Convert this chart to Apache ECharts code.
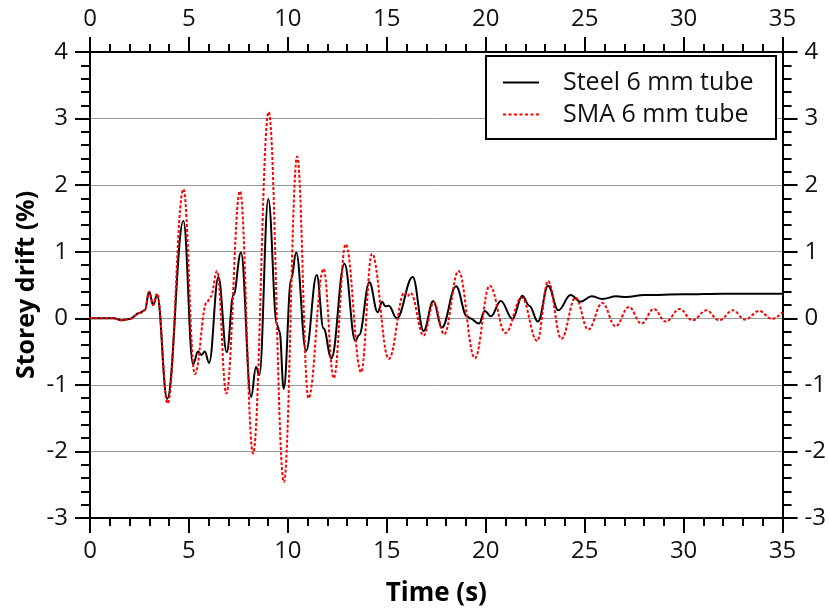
<!DOCTYPE html>
<html>
<head>
<meta charset="utf-8">
<script src="https://cdn.jsdelivr.net/npm/echarts@6/dist/echarts.min.js"></script>
<style>
html,body{margin:0;padding:0;background:#fff;}
#c{width:829px;height:612px;}
</style>
</head>
<body>
<div id="c"></div>
<script>
// Data
const seriesNames = ['Steel 6 mm tube', 'SMA 6 mm tube'];
const xTicks = [0, 5, 10, 15, 20, 25, 30, 35];
const yTicks = [-3, -2, -1, 0, 1, 2, 3, 4];

const steelTime = [0, 1.2, 1.6, 2.0, 2.5, 2.77, 2.99, 3.19, 3.39, 3.9, 4.72, 5.21, 5.46, 5.63, 5.8, 6.02, 6.49, 6.91, 7.25, 7.63, 8.14, 8.39, 8.56, 9.01, 9.45, 9.58, 9.79, 10.17, 10.42, 10.92, 11.46, 11.8, 12.2, 12.86, 13.41, 13.6, 14.12, 14.54, 14.76, 14.92, 15.1, 15.5, 16.31, 16.86, 17.35, 17.78, 18.5, 19.05, 19.2, 19.66, 19.95, 20.26, 20.76, 21.35, 21.85, 22.2, 22.64, 23.15, 23.67, 24.29, 24.79, 25.35, 25.89, 26.6, 27.1, 28.0, 30.0, 32.0, 35.0];
const steelDrift = [0, 0, -0.03, -0.01, 0.08, 0.12, 0.40, 0.20, 0.35, -1.21, 1.46, -0.69, -0.50, -0.55, -0.50, -0.67, 0.62, -0.51, 0.35, 0.99, -1.18, -0.73, -0.85, 1.79, -0.10, -0.20, -1.06, 0.59, 0.99, -0.49, 0.65, -0.15, -0.60, 0.82, -0.34, -0.25, 0.54, 0.09, 0.25, 0.18, 0.19, 0.0, 0.62, -0.19, 0.26, -0.14, 0.48, 0.03, 0.0, -0.08, 0.11, 0.03, 0.26, -0.01, 0.34, 0.19, -0.05, 0.49, 0.12, 0.35, 0.25, 0.33, 0.29, 0.33, 0.32, 0.35, 0.36, 0.37, 0.37];

const smaTime = [0, 1.2, 1.6, 2.0, 2.5, 2.77, 2.99, 3.19, 3.39, 3.92, 4.72, 5.3, 5.9, 6.1, 6.42, 6.89, 7.58, 8.24, 9.03, 9.8, 10.47, 11.04, 11.8, 12.32, 12.92, 13.7, 14.25, 15.1, 15.9, 16.05, 16.2, 16.86, 17.37, 17.9, 18.62, 19.45, 20.2, 21.0, 21.82, 22.6, 23.15, 23.82, 24.54, 25.18, 25.89, 26.56, 27.23, 27.87, 28.49, 29.1, 29.8, 30.45, 31.15, 31.8, 32.49, 33.1, 33.82, 34.46, 35.0];
const smaDrift = [0, 0, -0.03, -0.01, 0.08, 0.12, 0.40, 0.20, 0.37, -1.28, 1.94, -0.84, 0.24, 0.32, 0.71, -1.13, 1.91, -2.03, 3.10, -2.46, 2.43, -1.20, 0.74, -0.90, 1.11, -0.81, 0.97, -0.61, 0.39, 0.33, 0.38, -0.26, 0.24, -0.24, 0.71, -0.60, 0.49, -0.22, 0.31, -0.34, 0.56, -0.31, 0.31, -0.17, 0.23, -0.12, 0.17, -0.08, 0.14, -0.05, 0.14, -0.03, 0.12, -0.03, 0.12, -0.02, 0.11, -0.01, 0.09];

const steelData = steelTime.map((t, i) => [t, steelDrift[i]]);
const smaData = smaTime.map((t, i) => [t, smaDrift[i]]);

// legend icons: solid line and short-dash line
const solidIcon = 'path://M0,0h36v2h-36z';
let dashPath = 'path://';
for (let i = 0; i < 7; i++) { dashPath += 'M' + (i * 5.5) + ',0h3v2h-3z'; }

const FONT = "'Open Sans', 'Noto Sans', sans-serif";
const chart = echarts.init(document.getElementById('c'), null, {renderer: 'canvas'});

function xAx(pos) {
  return {
    type: 'value', position: pos, min: xTicks[0], max: xTicks[xTicks.length - 1], interval: 5,
    axisLine: {show: true, onZero: false, lineStyle: {color: '#000', width: 2}},
    axisTick: {show: true, length: 15, lineStyle: {color: '#000', width: 2}},
    minorTick: {show: true, splitNumber: 5, length: 8, lineStyle: {color: '#000', width: 2}},
    axisLabel: {show: true, margin: 21, fontSize: 24, fontFamily: FONT, color: '#111'},
    splitLine: {show: false},
    name: pos === 'bottom' ? 'Time (s)' : '',
    nameLocation: 'middle', nameGap: 63,
    nameTextStyle: {fontSize: 26, fontWeight: 'bold', fontFamily: FONT, color: '#000'}
  };
}
function yAx(pos) {
  return {
    type: 'value', position: pos, min: yTicks[0], max: yTicks[yTicks.length - 1], interval: 1,
    axisLine: {show: true, onZero: false, lineStyle: {color: '#000', width: 2}},
    axisTick: {show: true, length: 15, lineStyle: {color: '#000', width: 2}},
    minorTick: {show: true, splitNumber: 5, length: 9, lineStyle: {color: '#000', width: 2}},
    axisLabel: {show: true, margin: 22, fontSize: 24, fontFamily: FONT, color: '#111'},
    splitLine: {show: pos === 'left', lineStyle: {color: '#9a9a9a', width: 1}},
    name: pos === 'left' ? 'Storey drift (%)' : '',
    nameLocation: 'middle', nameGap: 51, nameMoveOverlap: false,
    nameTextStyle: {fontSize: 25, fontWeight: 'bold', fontFamily: FONT, color: '#000'}
  };
}

chart.setOption({
  animation: false,
  backgroundColor: '#fff',
  grid: {left: 90, right: 46, top: 52, bottom: 93, containLabel: false},
  xAxis: [xAx('bottom'), xAx('top')],
  yAxis: [yAx('left'), yAx('right')],
  graphic: [{
    type: 'rect', z: 3,
    shape: {x: 486, y: 56, width: 290, height: 83},
    style: {fill: '#fff', stroke: '#000', lineWidth: 2}
  }],
  legend: {
    show: true, orient: 'vertical', left: 503, top: 70, padding: 0,
    itemWidth: 36, itemHeight: 2, itemGap: 7, z: 5,
    textStyle: {fontSize: 25, fontFamily: FONT, color: '#111', padding: [0, 0, 0, 19]},
    data: [
      {name: seriesNames[0], icon: solidIcon},
      {name: seriesNames[1], icon: dashPath}
    ]
  },
  series: [
    {
      name: seriesNames[0], type: 'line', data: steelData, xAxisIndex: 0, yAxisIndex: 0,
      showSymbol: false, symbol: 'none', smooth: 0.4, smoothMonotone: 'x',
      lineStyle: {color: '#000', width: 2}, itemStyle: {color: '#000'}, z: 2
    },
    {
      name: seriesNames[1], type: 'line', data: smaData, xAxisIndex: 0, yAxisIndex: 0,
      showSymbol: false, symbol: 'none', smooth: 0.4, smoothMonotone: 'x',
      lineStyle: {color: '#ff0000', width: 2, type: [3, 2]}, itemStyle: {color: '#ff0000'}, z: 3
    }
  ]
});
</script>
</body>
</html>
